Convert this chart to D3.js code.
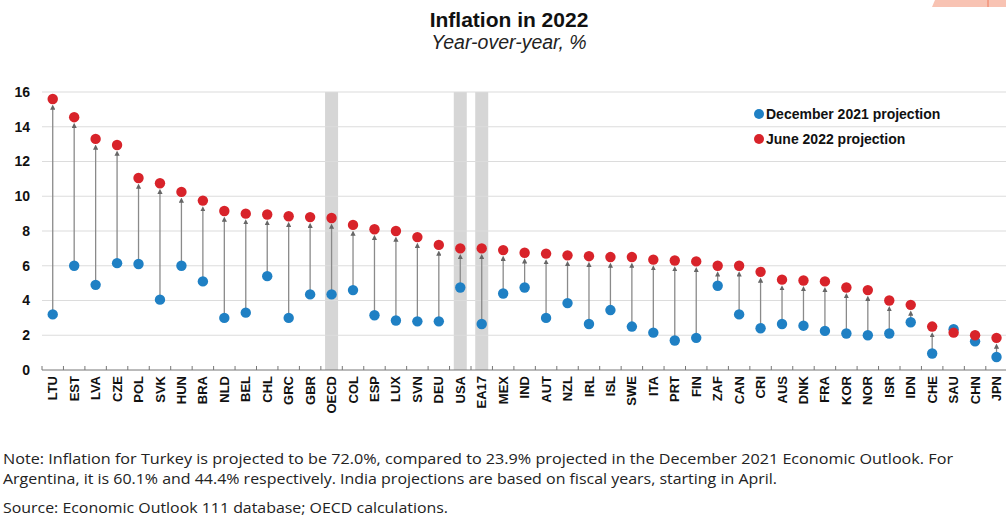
<!DOCTYPE html>
<html>
<head>
<meta charset="utf-8">
<script src="https://cdn.jsdelivr.net/npm/d3@7"></script>
<style>
  body { margin: 0; background: #fff; }
  svg { display: block; font-family: "Liberation Sans", Arial, sans-serif; }
</style>
</head>
<body>
<svg id="chart" width="1006" height="516"></svg>
<script>
var countries = ["LTU", "EST", "LVA", "CZE", "POL", "SVK", "HUN", "BRA", "NLD", "BEL", "CHL", "GRC", "GBR", "OECD",
  "COL", "ESP", "LUX", "SVN", "DEU", "USA", "EA17", "MEX", "IND", "AUT", "NZL", "IRL", "ISL", "SWE", "ITA", "PRT",
  "FIN", "ZAF", "CAN", "CRI", "AUS", "DNK", "FRA", "KOR", "NOR", "ISR", "IDN", "CHE", "SAU", "CHN", "JPN"]

// December 2021 projection
var dec2021 = [3.2, 6.0, 4.9, 6.15, 6.1, 4.05, 6.0, 5.1, 3.0, 3.3, 5.4, 3.0, 4.35, 4.35,
  4.6, 3.15, 2.85, 2.8, 2.8, 4.75, 2.65, 4.4, 4.75, 3.0, 3.85, 2.65, 3.45, 2.5, 2.15, 1.7,
  1.85, 4.85, 3.2, 2.4, 2.65, 2.55, 2.25, 2.1, 2.0, 2.1, 2.75, 0.95, 2.35, 1.65, 0.75]

// June 2022 projection
var jun2022 = [15.6, 14.55, 13.3, 12.95, 11.05, 10.75, 10.25, 9.75, 9.15, 9.0, 8.95, 8.85, 8.8, 8.75,
  8.35, 8.1, 8.0, 7.65, 7.2, 7.0, 7.0, 6.9, 6.75, 6.7, 6.6, 6.55, 6.5, 6.5, 6.35, 6.3,
  6.25, 6.0, 6.0, 5.65, 5.2, 5.15, 5.1, 4.75, 4.6, 4.0, 3.75, 2.5, 2.15, 2.0, 1.85]

var highlighted = ["OECD", "USA", "EA17"]
var yTicks = [0, 2, 4, 6, 8, 10, 12, 14, 16]

var seriesNames = ["December 2021 projection", "June 2022 projection"]
var noteLines = [
  "Note: Inflation for Turkey is projected to be 72.0%, compared to 23.9% projected in the December 2021 Economic Outlook. For",
  "Argentina, it is 60.1% and 44.4% respectively. India projections are based on fiscal years, starting in April."
]
var sourceLine = "Source: Economic Outlook 111 database; OECD calculations."

var blue = "#1f80c4"
var red = "#d8232a"
var arrowGrey = "#8a8a8a"
var gridGrey = "#dcdcdc"

var svg = d3.select("#chart")

// little decoration in the top right corner of the screenshot
svg.append("path")
  .attr("d", "M932,7 L935,0 L1006,0 L1006,7 Z")
  .attr("fill", "#f8c3b3")
svg.append("line")
  .attr("x1", 988).attr("x2", 988).attr("y1", 0).attr("y2", 7)
  .attr("stroke", "#ee7a5c").attr("stroke-width", 1)

// titles
svg.append("text")
  .attr("x", 509).attr("y", 27)
  .attr("text-anchor", "middle")
  .attr("font-size", 21).attr("font-weight", "bold").attr("fill", "#111")
  .text("Inflation in 2022")
svg.append("text")
  .attr("x", 509).attr("y", 49)
  .attr("text-anchor", "middle")
  .attr("font-size", 19.5).attr("font-style", "italic").attr("fill", "#222")
  .text("Year-over-year, %")

var x = d3.scaleBand()
  .domain(countries)
  .range([42, 42 + countries.length * 21.45])
  .padding(0)

var y = d3.scaleLinear()
  .domain([0, 16])
  .range([370, 92])

var plotRight = 1006

// highlighted columns
svg.append("g").selectAll("rect")
  .data(highlighted)
  .enter().append("rect")
  .attr("x", function (d) { return x(d) + x.bandwidth() / 2 - 6.5 })
  .attr("y", y(16))
  .attr("width", 13)
  .attr("height", y(0) - y(16))
  .attr("fill", "#d6d6d6")

// gridlines
svg.append("g").selectAll("line")
  .data(yTicks.filter(function (d) { return d > 0 }))
  .enter().append("line")
  .attr("x1", x.range()[0]).attr("x2", plotRight)
  .attr("y1", function (d) { return y(d) }).attr("y2", function (d) { return y(d) })
  .attr("stroke", gridGrey).attr("stroke-width", 1.2)

// y axis labels
var yAxis = d3.axisLeft(y).tickValues(yTicks).tickSize(0).tickPadding(12)
var yg = svg.append("g")
  .attr("transform", "translate(" + x.range()[0] + ",0)")
  .call(yAxis)
yg.select(".domain").remove()
yg.selectAll("text")
  .attr("font-size", 14).attr("font-weight", "bold").attr("fill", "#111")
  .attr("font-family", "Liberation Sans, Arial, sans-serif")

// x axis with ticks between categories
var xAxis = d3.axisBottom(x).tickSize(0).tickPadding(6)
var xg = svg.append("g")
  .attr("transform", "translate(0," + y(0) + ")")
  .call(xAxis)
xg.select(".domain").attr("stroke", "#777").attr("d", "M" + x.range()[0] + ",0H" + plotRight)
xg.selectAll("text")
  .attr("font-size", 13).attr("font-weight", "bold").attr("fill", "#111")
  .attr("font-family", "Liberation Sans, Arial, sans-serif")
  .attr("transform", "rotate(-90)")
  .attr("text-anchor", "end")
  .attr("x", -6).attr("y", 0).attr("dy", "0.35em")
svg.append("g").selectAll("line")
  .data(countries)
  .enter().append("line")
  .attr("x1", function (d) { return x(d) }).attr("x2", function (d) { return x(d) })
  .attr("y1", y(0)).attr("y2", y(0) - 4)
  .attr("stroke", "#777")

// arrow heads
svg.append("defs").append("marker")
  .attr("id", "arrow")
  .attr("viewBox", "0 0 6 6")
  .attr("refX", 3).attr("refY", 3)
  .attr("markerWidth", 4).attr("markerHeight", 4)
  .attr("orient", "auto")
  .append("path")
  .attr("d", "M0,0 L6,3 L0,6 Z")
  .attr("fill", "#666")

var data = countries.map(function (c, i) {
  return {c: c, dec: dec2021[i], jun: jun2022[i]}
})

var dotR = 5.2

// connector from December to June projection
svg.append("g").selectAll("line")
  .data(data.filter(function (d) { return y(d.dec) - y(d.jun) > dotR * 2 }))
  .enter().append("line")
  .attr("x1", function (d) { return x(d.c) + x.bandwidth() / 2 })
  .attr("x2", function (d) { return x(d.c) + x.bandwidth() / 2 })
  .attr("y1", function (d) { return y(d.dec) })
  .attr("y2", function (d) { return y(d.jun) + dotR + 3 })
  .attr("stroke", arrowGrey).attr("stroke-width", 1.3)
  .attr("marker-end", "url(#arrow)")

var cx = function (d) { return x(d.c) + x.bandwidth() / 2 }

svg.append("g").selectAll("circle")
  .data(data)
  .enter().append("circle")
  .attr("cx", cx)
  .attr("cy", function (d) { return y(d.dec) })
  .attr("r", dotR)
  .attr("fill", blue)

svg.append("g").selectAll("circle")
  .data(data)
  .enter().append("circle")
  .attr("cx", cx)
  .attr("cy", function (d) { return y(d.jun) })
  .attr("r", dotR)
  .attr("fill", red)

// legend
var legend = svg.append("g").attr("transform", "translate(759,114)")
var legendColours = [blue, red]
seriesNames.forEach(function (name, i) {
  legend.append("circle")
    .attr("cx", 0).attr("cy", i * 25).attr("r", 5)
    .attr("fill", legendColours[i])
  legend.append("text")
    .attr("x", 7).attr("y", i * 25).attr("dy", "0.35em")
    .attr("font-size", 14).attr("font-weight", "bold").attr("fill", "#111")
    .text(name)
})

// notes
var noteEnds = [953, 777]
noteLines.forEach(function (line, i) {
  svg.append("text")
    .attr("x", 3).attr("y", 464 + i * 20)
    .attr("font-family", "Open Sans, sans-serif")
    .attr("font-size", 14).attr("fill", "#222")
    .attr("textLength", noteEnds[i] - 3).attr("lengthAdjust", "spacingAndGlyphs")
    .text(line)
})
svg.append("text")
  .attr("x", 3).attr("y", 513)
  .attr("font-family", "Open Sans, sans-serif")
  .attr("font-size", 14).attr("fill", "#222")
  .attr("textLength", 445).attr("lengthAdjust", "spacingAndGlyphs")
  .text(sourceLine)
</script>
</body>
</html>
